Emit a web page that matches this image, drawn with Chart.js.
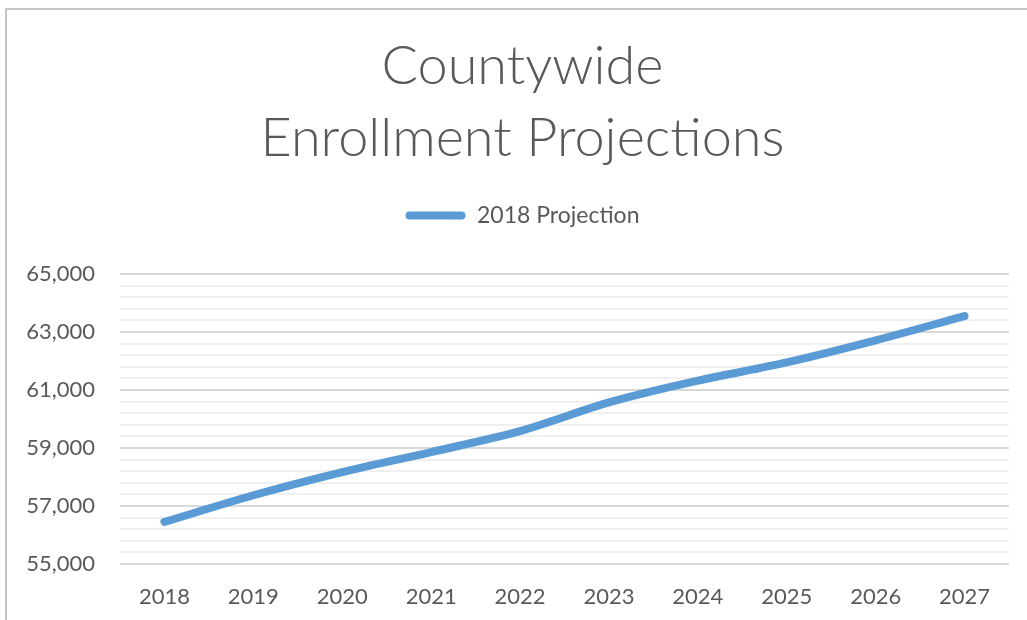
<!DOCTYPE html>
<html>
<head>
<meta charset="utf-8">
<script src="https://cdn.jsdelivr.net/npm/chart.js@4/dist/chart.umd.min.js"></script>
<style>
  html, body { margin: 0; padding: 0; background: #ffffff; }
  #wrap { position: relative; width: 1027px; height: 620px; }
</style>
</head>
<body>
<div id="wrap"><canvas id="c" width="1027" height="620"></canvas></div>
<script>
const categories = ['2018', '2019', '2020', '2021', '2022', '2023', '2024', '2025', '2026', '2027'];
const projection2018 = [56450, 57370, 58170, 58860, 59580, 60570, 61320, 61950, 62710, 63550];
const seriesName = '2018 Projection';
const titleLines = ['Countywide', 'Enrollment Projections'];
const yMin = 55000, yMax = 65000, yMinorStep = 400, yMajorStep = 2000;

const textColor = '#595959';
const lineColor = '#5B9BD5';

const isMajor = (v) => Math.abs((v - yMin) % yMajorStep) < 1e-6;

const frame = {
  id: 'frame',
  beforeDraw(chart) {
    const ctx = chart.ctx;
    ctx.save();
    ctx.fillStyle = '#ffffff';
    ctx.fillRect(0, 0, chart.width, chart.height);
    ctx.strokeStyle = '#c4c4c4';
    ctx.lineWidth = 2;
    ctx.beginPath();
    ctx.moveTo(6, chart.height);
    ctx.lineTo(6, 9);
    ctx.lineTo(chart.width, 9);
    ctx.stroke();
    ctx.restore();
  }
};

function shiftDraw(box, dx) {
  if (!box || box._shifted) return;
  const orig = box.draw;
  box.draw = function () {
    const ctx = this.ctx;
    ctx.save();
    ctx.translate(dx, 0);
    orig.apply(this, arguments);
    ctx.restore();
  };
  box._shifted = true;
}

const headerTweaks = {
  id: 'headerTweaks',
  beforeUpdate(chart) {
    const lg = chart.legend;
    if (lg && !lg._gapWrapped) {
      const orig = lg.fit;
      lg.fit = function () { orig.call(this); this.height += 37; };
      lg._gapWrapped = true;
    }
    shiftDraw(chart.titleBlock, 8);
    shiftDraw(chart.legend, 8);
  }
};

new Chart(document.getElementById('c'), {
  type: 'line',
  data: {
    labels: categories,
    datasets: [{
      label: seriesName,
      data: projection2018,
      borderColor: lineColor,
      backgroundColor: lineColor,
      borderWidth: 8,
      borderCapStyle: 'round',
      borderJoinStyle: 'round',
      pointRadius: 0,
      pointHoverRadius: 0,
      tension: 0.3,
      fill: false
    }]
  },
  options: {
    responsive: false,
    animation: false,
    layout: { padding: { left: 20, right: 18, top: 0, bottom: 0 } },
    plugins: {
      tooltip: { enabled: false },
      title: {
        display: true,
        text: titleLines,
        color: textColor,
        font: { family: 'Lato', size: 54, weight: 300, lineHeight: 1.3333 },
        padding: { top: 31, bottom: 19 }
      },
      legend: {
        display: true,
        position: 'top',
        labels: {
          color: textColor,
          font: { family: 'Lato', size: 23 },
          boxWidth: 60,
          boxHeight: 8,
          useBorderRadius: true,
          borderRadius: 4,
          padding: 10,
          generateLabels(chart) {
            return chart.data.datasets.map((ds, i) => ({
              text: ds.label,
              fillStyle: ds.borderColor,
              strokeStyle: ds.borderColor,
              lineWidth: 0,
              fontColor: textColor,
              datasetIndex: i,
              borderRadius: 4
            }));
          }
        }
      }
    },
    scales: {
      x: {
        offset: true,
        grid: { display: false, drawTicks: false },
        border: { display: false },
        ticks: {
          color: textColor,
          font: { family: 'Lato', size: 22 },
          padding: 20,
          maxRotation: 0
        },
        afterFit(scale) { scale.height = 56; }
      },
      y: {
        min: yMin,
        max: yMax,
        border: { display: false },
        grid: {
          drawTicks: false,
          color: (ctx) => (ctx.tick && isMajor(ctx.tick.value)) ? '#d9d9d9' : '#f0f0f0',
          lineWidth: 2
        },
        ticks: {
          stepSize: yMinorStep,
          autoSkip: false,
          color: textColor,
          font: { family: 'Lato', size: 22 },
          padding: 25,
          callback: (v) => isMajor(v) ? Number(v).toLocaleString('en-US') : ''
        },
        afterFit(scale) { scale.width = 100; }
      }
    }
  },
  plugins: [frame, headerTweaks]
});
</script>
</body>
</html>
